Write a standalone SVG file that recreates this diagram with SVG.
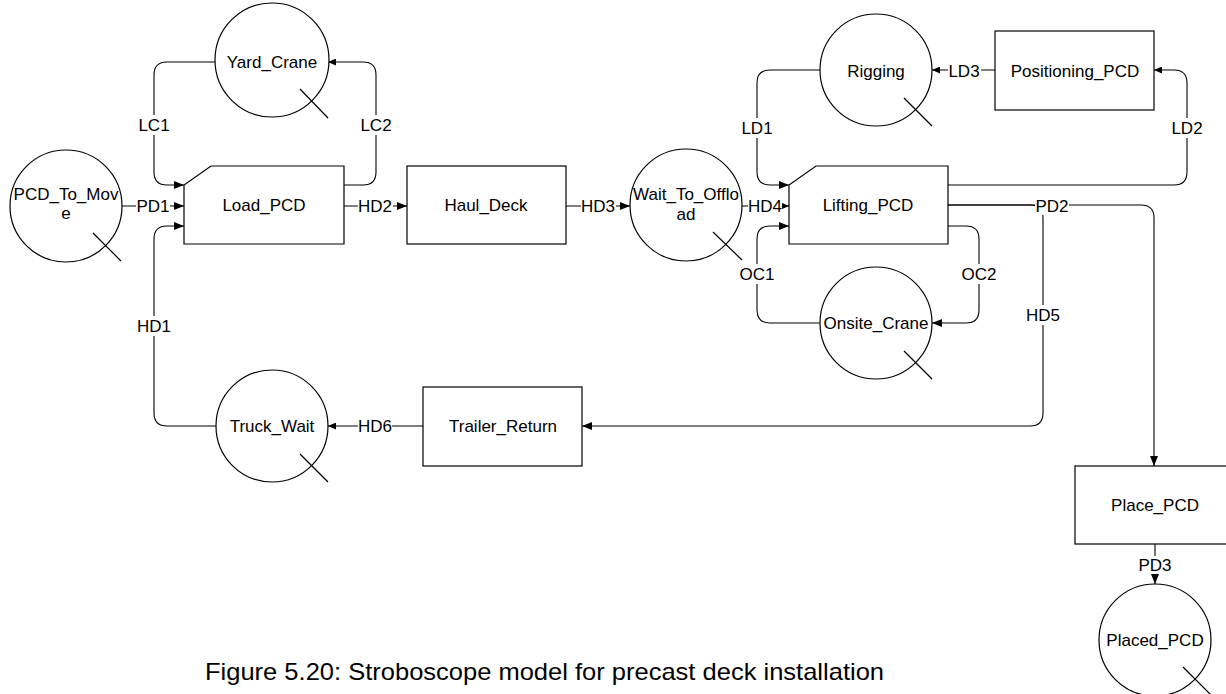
<svg xmlns="http://www.w3.org/2000/svg" width="1226" height="694" viewBox="0 0 1226 694">
<style>
  .shape{fill:#fff;stroke:#000;stroke-width:1.2}
  .tail{stroke:#000;stroke-width:1.2}
  .conn{fill:none;stroke:#000;stroke-width:1.1}
  .t{font-family:"Liberation Sans",Arial,sans-serif;font-size:17px;fill:#000;text-anchor:middle}
  .lb{fill:#fff;stroke:none}
  .cap{font-family:"Liberation Sans",Arial,sans-serif;font-size:24px;fill:#000}
</style>
<defs>
  <marker id="ah" markerUnits="userSpaceOnUse" markerWidth="10" markerHeight="8" refX="10" refY="4" orient="auto">
    <path d="M0,0 L10,4 L0,8 Z" fill="#000"/>
  </marker>
  <marker id="ahs" markerUnits="userSpaceOnUse" markerWidth="8" markerHeight="7" refX="8" refY="3.5" orient="auto">
    <path d="M0,0 L8,3.5 L0,7 Z" fill="#000"/>
  </marker>
</defs>
<rect width="1226" height="694" fill="#fff"/>

<g id="connectors">
  <g id="LC1"><path class="conn" d="M216,62 H167 Q154,62 154,75 V172 Q154,185 167,185 H184" marker-end="url(#ah)"/>
    <rect class="lb" x="138" y="115" width="32" height="20"/><text class="t" x="154" y="131">LC1</text></g>
  <g id="LC2"><path class="conn" d="M344,185 H363 Q376,185 376,172 V75 Q376,62 363,62 H328" marker-end="url(#ahs)"/>
    <rect class="lb" x="360" y="115" width="32" height="20"/><text class="t" x="376" y="131">LC2</text></g>
  <g id="PD1"><path class="conn" d="M122,206 H184" marker-end="url(#ah)"/>
    <rect class="lb" x="136" y="197" width="34" height="18"/><text class="t" x="153" y="212">PD1</text></g>
  <g id="HD2"><path class="conn" d="M344,206 H407" marker-end="url(#ah)"/>
    <rect class="lb" x="358" y="197" width="35" height="18"/><text class="t" x="375" y="212">HD2</text></g>
  <g id="HD3"><path class="conn" d="M566,206 H630" marker-end="url(#ah)"/>
    <rect class="lb" x="581" y="197" width="35" height="18"/><text class="t" x="598" y="212">HD3</text></g>
  <g id="HD4"><path class="conn" d="M742,206 H789" marker-end="url(#ahs)"/>
    <rect class="lb" x="748" y="197" width="34" height="18"/><text class="t" x="765" y="212">HD4</text></g>
  <g id="HD1"><path class="conn" d="M216,426 H167 Q154,426 154,413 V239 Q154,226 167,226 H184" marker-end="url(#ah)"/>
    <rect class="lb" x="137" y="316" width="34" height="20"/><text class="t" x="154" y="332">HD1</text></g>
  <g id="HD6"><path class="conn" d="M423,426 H328" marker-end="url(#ahs)"/>
    <rect class="lb" x="358" y="417" width="34" height="18"/><text class="t" x="375" y="432">HD6</text></g>
  <g id="LD1"><path class="conn" d="M821,70 H770 Q757,70 757,83 V172 Q757,185 770,185 H789" marker-end="url(#ah)"/>
    <rect class="lb" x="741" y="118" width="32" height="20"/><text class="t" x="757" y="134">LD1</text></g>
  <g id="LD3"><path class="conn" d="M995,70 H932" marker-end="url(#ahs)"/>
    <rect class="lb" x="948" y="61" width="33" height="18"/><text class="t" x="964" y="77">LD3</text></g>
  <g id="LD2"><path class="conn" d="M948,185 H1174 Q1187,185 1187,172 V83 Q1187,70 1174,70 H1154" marker-end="url(#ahs)"/>
    <rect class="lb" x="1171" y="118" width="33" height="20"/><text class="t" x="1187" y="134">LD2</text></g>
  <g id="PD2"><path class="conn" d="M948,205 H1141 Q1154,205 1154,218 V466" marker-end="url(#ah)"/></g>
  <g id="HD5"><path class="conn" d="M948,205 H1030 Q1043,205 1043,218 V413 Q1043,426 1030,426 H582" marker-end="url(#ah)"/>
    <rect class="lb" x="1026" y="305" width="34" height="20"/><text class="t" x="1043" y="321">HD5</text></g>
  <g id="PD2label"><rect class="lb" x="1035" y="195" width="34" height="20"/><text class="t" x="1052" y="212">PD2</text></g>
  <g id="OC1"><path class="conn" d="M820,323 H770 Q757,323 757,310 V239 Q757,226 770,226 H789" marker-end="url(#ah)"/>
    <rect class="lb" x="740" y="264" width="34" height="20"/><text class="t" x="757" y="280">OC1</text></g>
  <g id="OC2"><path class="conn" d="M948,226 H966 Q979,226 979,239 V310 Q979,323 966,323 H932" marker-end="url(#ah)"/>
    <rect class="lb" x="962" y="264" width="34" height="20"/><text class="t" x="979" y="280">OC2</text></g>
  <g id="PD3"><path class="conn" d="M1155,544 V584" marker-end="url(#ah)"/>
    <rect class="lb" x="1138" y="556" width="34" height="18"/><text class="t" x="1155" y="571">PD3</text></g>
</g>

<g id="PCD_To_Move"><circle class="shape" cx="66" cy="206" r="56"/><line class="tail" x1="93" y1="233" x2="121" y2="261"/>
  <text class="t" x="66" y="200">PCD_To_Mov</text><text class="t" x="66" y="219">e</text></g>
<g id="Yard_Crane"><circle class="shape" cx="272" cy="60" r="57"/><line class="tail" x1="300" y1="89" x2="328" y2="118"/>
  <text class="t" x="272" y="68">Yard_Crane</text></g>
<g id="Load_PCD"><path class="shape" d="M211,166 H344 V244 H184 V185 Z"/><text class="t" x="264" y="211">Load_PCD</text></g>
<g id="Haul_Deck"><rect class="shape" x="407" y="166" width="159" height="78"/><text class="t" x="486" y="211">Haul_Deck</text></g>
<g id="Wait_To_Offload"><circle class="shape" cx="686" cy="205" r="56"/><line class="tail" x1="713" y1="232" x2="742" y2="260"/>
  <text class="t" x="686" y="200">Wait_To_Offlo</text><text class="t" x="686" y="220">ad</text></g>
<g id="Lifting_PCD"><path class="shape" d="M816,166 H948 V244 H789 V185 Z"/><text class="t" x="868" y="211">Lifting_PCD</text></g>
<g id="Rigging"><circle class="shape" cx="876" cy="70" r="56"/><line class="tail" x1="904" y1="98" x2="932" y2="126"/>
  <text class="t" x="876" y="77">Rigging</text></g>
<g id="Positioning_PCD"><rect class="shape" x="995" y="31" width="159" height="79"/><text class="t" x="1075" y="77">Positioning_PCD</text></g>
<g id="Onsite_Crane"><circle class="shape" cx="876" cy="323" r="56"/><line class="tail" x1="904" y1="351" x2="932" y2="379"/>
  <text class="t" x="876" y="329">Onsite_Crane</text></g>
<g id="Truck_Wait"><circle class="shape" cx="272" cy="426" r="56"/><line class="tail" x1="300" y1="454" x2="328" y2="482"/>
  <text class="t" x="272" y="432">Truck_Wait</text></g>
<g id="Trailer_Return"><rect class="shape" x="423" y="387" width="159" height="79"/><text class="t" x="503" y="432">Trailer_Return</text></g>
<g id="Place_PCD"><rect class="shape" x="1075" y="466" width="159" height="78"/><text class="t" x="1155" y="511">Place_PCD</text></g>
<g id="Placed_PCD"><circle class="shape" cx="1155" cy="640" r="56"/><line class="tail" x1="1183" y1="667" x2="1211" y2="695"/>
  <text class="t" x="1155" y="646">Placed_PCD</text></g>

<text class="cap" x="205" y="680" textLength="679" lengthAdjust="spacingAndGlyphs">Figure 5.20: Stroboscope model for precast deck installation</text>
</svg>
